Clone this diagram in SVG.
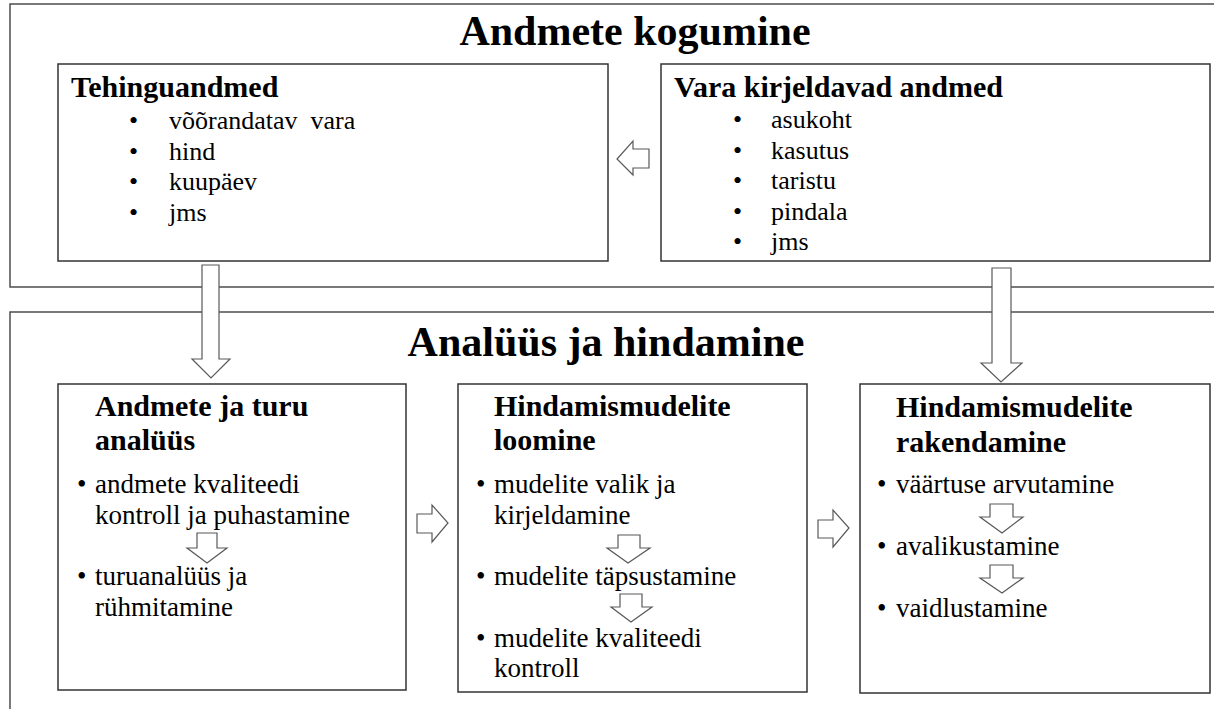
<svg xmlns="http://www.w3.org/2000/svg" width="1214" height="709" viewBox="0 0 1214 709">
<style>
.frame{fill:none;stroke:#4d4d4d;stroke-width:1.5}
.box{fill:#fff;stroke:#333;stroke-width:1.5}
.arr{fill:#fff;stroke:#595959;stroke-width:1.2;stroke-linejoin:miter}
text{font-family:"Liberation Serif","Times New Roman",serif;fill:#000}
.title{font-weight:bold;font-size:42px;text-anchor:middle}
.head{font-weight:bold;font-size:30px}
.txt{font-weight:400;font-size:26px}
.txt2{font-weight:400;font-size:27px}
</style>
<rect width="1214" height="709" fill="#fff"/>
<g id="section-kogumine">
<rect class="frame" x="10" y="4" width="1220" height="283"/>
<text class="title" x="635" y="45">Andmete kogumine</text>
</g>
<g id="section-analuus">
<rect class="frame" x="10" y="312" width="1220" height="420"/>
<text class="title" x="606" y="356">Analüüs ja hindamine</text>
</g>
<g id="node-tehinguandmed">
<rect class="box" x="58" y="64" width="550" height="197"/>
<text class="head" x="71" y="97">Tehinguandmed</text>
<text class="txt" x="129" y="129">•</text><text class="txt" x="169" y="129" xml:space="preserve">võõrandatav  vara</text>
<text class="txt" x="129" y="160">•</text><text class="txt" x="169" y="160">hind</text>
<text class="txt" x="129" y="190">•</text><text class="txt" x="169" y="190">kuupäev</text>
<text class="txt" x="129" y="221">•</text><text class="txt" x="169" y="221">jms</text>
</g>
<g id="node-vara">
<rect class="box" x="661" y="64" width="549" height="197"/>
<text class="head" x="674" y="97">Vara kirjeldavad andmed</text>
<text class="txt" x="733" y="128">•</text><text class="txt" x="771" y="128">asukoht</text>
<text class="txt" x="733" y="159">•</text><text class="txt" x="771" y="159">kasutus</text>
<text class="txt" x="733" y="189">•</text><text class="txt" x="771" y="189">taristu</text>
<text class="txt" x="733" y="220">•</text><text class="txt" x="771" y="220">pindala</text>
<text class="txt" x="733" y="250">•</text><text class="txt" x="771" y="250">jms</text>
</g>
<g id="node-analuus">
<rect class="box" x="58" y="384" width="348" height="306"/>
<text class="head" x="95" y="416">Andmete ja turu</text>
<text class="head" x="95" y="450">analüüs</text>
<text class="txt2" x="77" y="493">•</text><text class="txt2" x="95" y="493">andmete kvaliteedi</text>
<text class="txt2" x="95" y="524">kontroll ja puhastamine</text>
<text class="txt2" x="77" y="585">•</text><text class="txt2" x="95" y="585">turuanalüüs ja</text>
<text class="txt2" x="95" y="616">rühmitamine</text>
<path class="arr" d="M197,533 H217 V548 H227 L207,563 L187,548 H197 Z"/>
</g>
<g id="node-loomine">
<rect class="box" x="458" y="384" width="349" height="308"/>
<text class="head" x="494" y="416">Hindamismudelite</text>
<text class="head" x="494" y="450">loomine</text>
<text class="txt2" x="476" y="493">•</text><text class="txt2" x="494" y="493">mudelite valik ja</text>
<text class="txt2" x="494" y="524">kirjeldamine</text>
<text class="txt2" x="476" y="585">•</text><text class="txt2" x="494" y="585">mudelite täpsustamine</text>
<text class="txt2" x="476" y="647">•</text><text class="txt2" x="494" y="647">mudelite kvaliteedi</text>
<text class="txt2" x="494" y="677">kontroll</text>
<path class="arr" d="M618,535 H640 V548 H650 L628,563 L607,548 H618 Z"/>
<path class="arr" d="M620,594 H642 V607 H652 L631,622 L611,607 H620 Z"/>
</g>
<g id="node-rakendamine">
<rect class="box" x="860" y="384" width="350" height="309"/>
<text class="head" x="896" y="417">Hindamismudelite</text>
<text class="head" x="896" y="452">rakendamine</text>
<text class="txt2" x="877" y="493">•</text><text class="txt2" x="896" y="493">väärtuse arvutamine</text>
<text class="txt2" x="877" y="555">•</text><text class="txt2" x="896" y="555">avalikustamine</text>
<text class="txt2" x="877" y="617">•</text><text class="txt2" x="896" y="617">vaidlustamine</text>
<path class="arr" d="M990,504 H1013 V517 H1023 L1002,533 L980,517 H990 Z"/>
<path class="arr" d="M990,565 H1013 V578 H1023 L1002,593 L980,578 H990 Z"/>
</g>
<g id="connectors">
<path class="arr" d="M649,149 V168 H633 V175 L617,159 L633,141 V149 Z"/>
<path class="arr" d="M202,265 H219 V359 H230 L211,378 L192,359 H202 Z"/>
<path class="arr" d="M992,268 H1011 V363 H1022 L1001,382 L981,363 H992 Z"/>
<path class="arr" d="M417,514 H432 V505 L448,523 L432,542 V533 H417 Z"/>
<path class="arr" d="M818,520 H833 V510 L849,528 L833,547 V538 H818 Z"/>
</g>
</svg>
